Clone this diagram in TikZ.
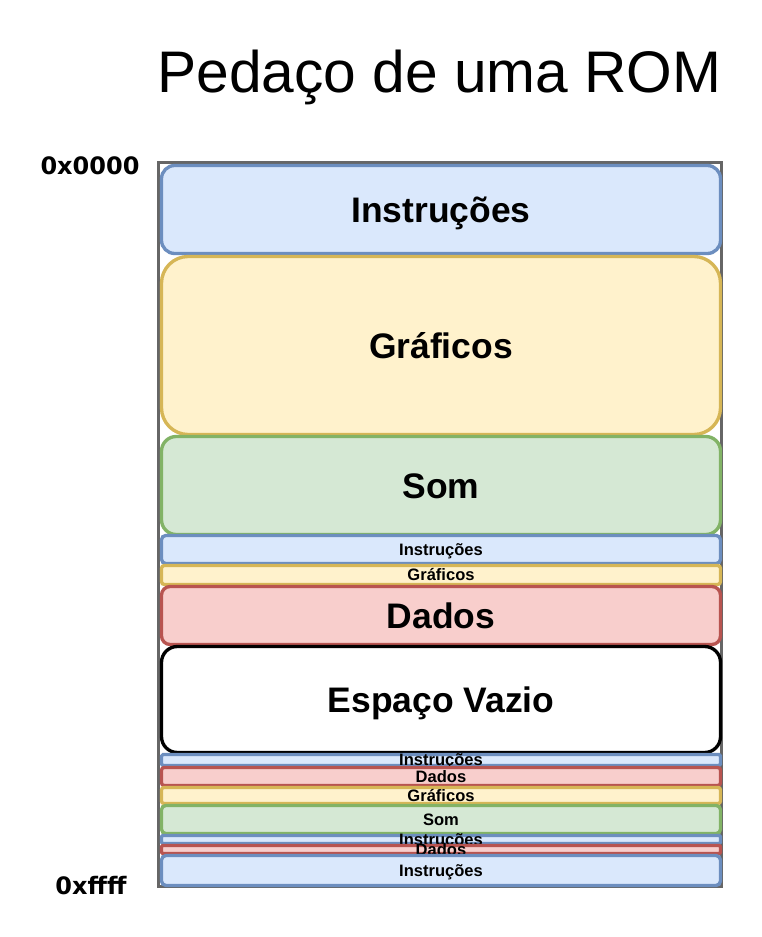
\documentclass[tikz,border=0pt]{standalone}
\usepackage{fontspec}
\setmainfont{Liberation Sans}
\newfontfamily\addrfont{DejaVu Sans}
\usepackage{tikz}
\usetikzlibrary{positioning}
\definecolor{BlueFill}{HTML}{DAE8FC}
\definecolor{BlueLine}{HTML}{6C8EBF}
\definecolor{GoldFill}{HTML}{FFF2CC}
\definecolor{GoldLine}{HTML}{D6B656}
\definecolor{GreenFill}{HTML}{D5E8D4}
\definecolor{GreenLine}{HTML}{82B366}
\definecolor{RedFill}{HTML}{F8CECC}
\definecolor{RedLine}{HTML}{B85450}
\definecolor{FrameGray}{HTML}{666666}

\tikzset{
  seg/.style={rectangle, line width=2.5pt, minimum width=419.25pt, inner sep=0pt, outer sep=0pt},
  instr/.style={seg, fill=BlueFill, draw=BlueLine},
  graf/.style={seg, fill=GoldFill, draw=GoldLine},
  som/.style={seg, fill=GreenFill, draw=GreenLine},
  dados/.style={seg, fill=RedFill, draw=RedLine},
  vazio/.style={seg, fill=white, draw=black},
  biglbl/.style={font=\bfseries\fontsize{26.6pt}{30pt}\selectfont, text height=19.2pt, text depth=0pt},
  smalllbl/.style={font=\bfseries\fontsize{12.4pt}{14pt}\selectfont, text height=8.9pt, text depth=0pt},
  addr/.style={font=\addrfont\bfseries\fontsize{18pt}{21pt}\selectfont, anchor=base}
}

\begin{document}
\begin{tikzpicture}[x=0.75pt, y=-0.75pt]
    \useasboundingbox (0,0) rectangle (761,937);

    % Title
    \node[font=\fontsize{44pt}{50pt}\selectfont, anchor=base] (title) at (439.5,93) {Pedaço de uma ROM};

    % ROM frame
    \node[rectangle, draw=FrameGray, fill=white, line width=2.5pt, minimum width=422.25pt, minimum height=543pt, inner sep=0pt] (rom) at (440,524.5) {};

    % Addresses
    \node[addr] (start) at (90,175) {0x0000};
    \node[addr] (end) at (91,894) {0xffff};

    % Large blocks
    \node[instr, minimum height=66pt, rounded corners=9.9pt, label={[biglbl]center:Instruções}] (instrA) at (441,209.5) {};
    \node[graf, minimum height=133.5pt, rounded corners=20pt, label={[biglbl]center:Gráficos}] (grafA) at (441,345.5) {};
    \node[som, minimum height=73.5pt, rounded corners=11pt, label={[biglbl]center:Som}] (somA) at (441,485.5) {};
    \node[instr, minimum height=21pt, rounded corners=3.15pt, label={[smalllbl]center:Instruções}] (instrB) at (441,549.5) {};
    \node[graf, minimum height=14.25pt, rounded corners=2.1pt, label={[smalllbl]center:Gráficos}] (grafB) at (441,575) {};
    \node[dados, minimum height=43.5pt, rounded corners=6.5pt, label={[biglbl]center:Dados}] (dadosA) at (441,615.5) {};
    \node[vazio, minimum height=79.5pt, rounded corners=11.9pt, label={[biglbl]center:Espaço Vazio}] (vazio) at (441,699.5) {};

    % Thin blocks at the end
    \node[instr, minimum height=8.25pt, rounded corners=1.2pt, label={[smalllbl]center:Instruções}] (instrC) at (441,760) {};
    \node[dados, minimum height=13.5pt, rounded corners=2pt, label={[smalllbl]center:Dados}] (dadosB) at (441,776.5) {};
    \node[graf, minimum height=12pt, rounded corners=1.8pt, label={[smalllbl]center:Gráficos}] (grafC) at (441,795.5) {};
    \node[som, minimum height=21pt, rounded corners=3.15pt, label={[smalllbl]center:Som}] (somB) at (441,819.5) {};
    \node[instr, minimum height=6pt, rounded corners=0.9pt, label={[smalllbl]center:Instruções}] (instrD) at (441,839.5) {};
    \node[dados, minimum height=6pt, rounded corners=0.9pt, label={[smalllbl]center:Dados}] (dadosC) at (441,849.5) {};
    \node[instr, minimum height=22.5pt, rounded corners=3.4pt, label={[smalllbl]center:Instruções}] (instrE) at (441,870.5) {};

\end{tikzpicture}
\end{document}
